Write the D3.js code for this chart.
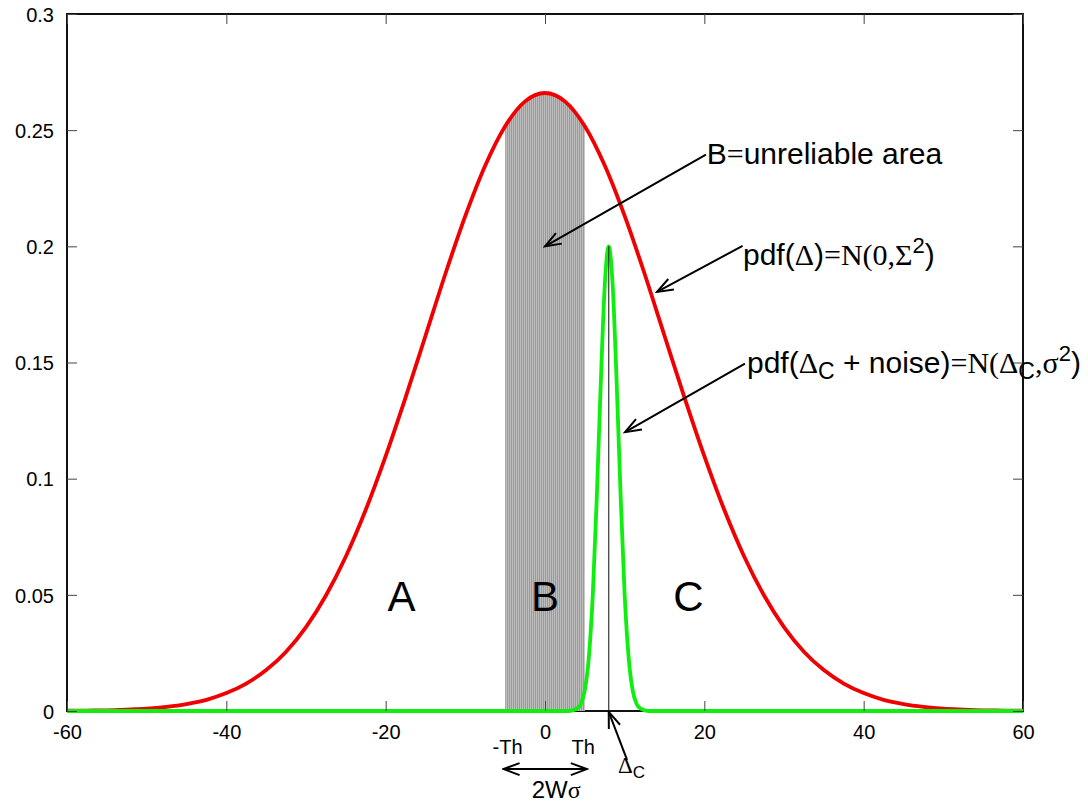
<!DOCTYPE html>
<html lang="en">
  <head>
    <meta charset="utf-8">
    <title>Unreliable area</title>
    <script src="https://d3js.org/d3.v7.min.js"></script>
    <style>
      html, body { margin: 0; padding: 0; background: #fff; overflow: hidden; }
      svg { display: block; }
      text { font-family: "Liberation Sans", Arial, sans-serif; fill: #000; }
      .serif { font-family: "Liberation Serif", "Times New Roman", serif; }
      .axis line { stroke: #444; stroke-width: 1; }
    </style>
  </head>
  <body>
    <div class="chart"></div>

    <script type="text/javascript">
      // values
      const xTicks = [-60, -40, -20, 0, 20, 40, 60];
      const yTicks = [0, 0.05, 0.1, 0.15, 0.2, 0.25, 0.3];

      // pdf(Delta) = N(0, Sigma^2)
      const bigX = [-60, -57.5, -55, -52.5, -50, -47.5, -45, -42.5, -40, -37.5, -35, -32.5, -30, -27.5, -25, -22.5,
                    -20, -17.5, -15, -12.5, -10, -7.5, -5, -2.5, 0, 2.5, 5, 7.5, 10, 12.5, 15, 17.5, 20,
                    22.5, 25, 27.5, 30, 32.5, 35, 37.5, 40, 42.5, 45, 47.5, 50, 52.5, 55, 57.5, 60];
      const bigY = [0.0001, 0.0002, 0.0003, 0.0006, 0.0010, 0.0018, 0.0030, 0.0048, 0.0077, 0.0118, 0.0176, 0.0255,
                    0.0361, 0.0497, 0.0665, 0.0866, 0.1097, 0.1350, 0.1615, 0.1882, 0.2131, 0.2348, 0.2517, 0.2624,
                    0.2660, 0.2624, 0.2517, 0.2348, 0.2131, 0.1882, 0.1615, 0.1350, 0.1097, 0.0866, 0.0665, 0.0497,
                    0.0361, 0.0255, 0.0176, 0.0118, 0.0077, 0.0048, 0.0030, 0.0018, 0.0010, 0.0006, 0.0003, 0.0002, 0.0001];

      // pdf(Delta_C + noise) = N(Delta_C, sigma^2)
      const smallX = [-60, 0, 3, 4, 4.5, 5, 5.5, 6, 6.5, 7, 7.5, 8, 8.5, 9, 9.5, 10, 10.5, 11, 11.5, 12, 13, 60];
      const smallY = [0, 0, 0, 0.001, 0.003, 0.009, 0.023, 0.05, 0.092, 0.141, 0.183, 0.2, 0.183, 0.141, 0.092,
                      0.05, 0.023, 0.009, 0.003, 0.001, 0, 0];

      const th = 5;          // threshold -Th .. Th
      const deltaC = 8;      // centre of the narrow pdf
      const deltaCPeak = 0.2;

      const width = 1088;
      const height = 803;
      const margin = {top: 14, right: 65, bottom: 92, left: 67};
      const innerWidth = width - margin.left - margin.right;
      const innerHeight = height - margin.top - margin.bottom;

      const svg = d3.select('.chart')
          .append('svg')
          .attr('width', width)
          .attr('height', height)
          .attr('viewBox', '0 0 ' + width + ' ' + height);

      const defs = svg.append('defs');

      // grey impulses of area B
      const pat = defs.append('pattern')
          .attr('id', 'stripes')
          .attr('patternUnits', 'userSpaceOnUse')
          .attr('width', 2)
          .attr('height', 10);
      pat.append('rect').attr('width', 2).attr('height', 10).attr('fill', '#bdbdbd');
      pat.append('rect').attr('width', 1).attr('height', 10).attr('fill', '#9a9a9a');

      defs.append('marker')
          .attr('id', 'head')
          .attr('markerUnits', 'userSpaceOnUse')
          .attr('viewBox', '-18 -9 20 18')
          .attr('markerWidth', 20)
          .attr('markerHeight', 18)
          .attr('refX', 0)
          .attr('refY', 0)
          .attr('orient', 'auto-start-reverse')
          .append('path')
          .attr('d', 'M-16,-6 L0,0 L-16,6')
          .attr('fill', 'none')
          .attr('stroke', '#000')
          .attr('stroke-width', 2);

      const g = svg.append('g')
          .attr('transform', 'translate(' + margin.left + ',' + margin.top + ')');

      const xScale = d3.scaleLinear()
          .domain([-60, 60])
          .range([0, innerWidth]);

      const yScale = d3.scaleLinear()
          .domain([0, 0.3])
          .range([innerHeight, 0]);

      const bigData = bigX.map((x, i) => ({x: x, y: bigY[i]}));
      const smallData = smallX.map((x, i) => ({x: x, y: smallY[i]}));

      defs.append('clipPath')
          .attr('id', 'bandB')
          .append('rect')
          .attr('x', xScale(-th))
          .attr('y', 0)
          .attr('width', xScale(th) - xScale(-th))
          .attr('height', innerHeight);

      const area = d3.area()
          .x(d => xScale(d.x))
          .y0(yScale(0))
          .y1(d => yScale(d.y))
          .curve(d3.curveMonotoneX);

      const line = d3.line()
          .x(d => xScale(d.x))
          .y(d => yScale(d.y))
          .curve(d3.curveMonotoneX);

      // frame
      g.append('rect')
          .attr('width', innerWidth)
          .attr('height', innerHeight)
          .attr('fill', 'none')
          .attr('stroke', '#111')
          .attr('stroke-width', 2);

      g.append('path')
          .datum(bigData)
          .attr('clip-path', 'url(#bandB)')
          .attr('fill', 'url(#stripes)')
          .attr('d', area);

      g.append('path')
          .datum(bigData)
          .attr('fill', 'none')
          .attr('stroke', '#f00000')
          .attr('stroke-width', 3.8)
          .attr('d', line);

      g.append('path')
          .datum(smallData)
          .attr('fill', 'none')
          .attr('stroke', '#10ee10')
          .attr('stroke-width', 3.8)
          .attr('d', line);

      g.append('line')
          .attr('x1', xScale(deltaC))
          .attr('x2', xScale(deltaC))
          .attr('y1', yScale(0))
          .attr('y2', yScale(deltaCPeak))
          .attr('stroke', '#333')
          .attr('stroke-width', 1.2);

      // axes, ticks mirrored on all four sides
      const fmt = d => String(d);
      const xAxis = d3.axisBottom(xScale).tickValues(xTicks).tickSizeInner(-10).tickSizeOuter(0).tickPadding(14).tickFormat(fmt);
      const yAxis = d3.axisLeft(yScale).tickValues(yTicks).tickSizeInner(-10).tickSizeOuter(0).tickPadding(13).tickFormat(fmt);

      g.append('g')
          .attr('class', 'axis')
          .attr('transform', 'translate(0,' + innerHeight + ')')
          .call(xAxis);
      g.append('g')
          .attr('class', 'axis')
          .call(yAxis)
          .selectAll('text')
          .attr('dy', '0.36em');
      g.append('g')
          .attr('class', 'axis mirror')
          .call(d3.axisTop(xScale).tickValues(xTicks).tickSizeInner(-10).tickSizeOuter(0));
      g.append('g')
          .attr('class', 'axis mirror')
          .attr('transform', 'translate(' + innerWidth + ',0)')
          .call(d3.axisRight(yScale).tickValues(yTicks).tickSizeInner(-10).tickSizeOuter(0));

      g.selectAll('.mirror text').remove();
      g.selectAll('.axis .domain').remove();
      g.selectAll('.axis').attr('font-family', null).attr('font-size', 20);

      // region letters
      const regions = [{t: 'A', x: -18}, {t: 'B', x: 0}, {t: 'C', x: 18}];
      g.selectAll('.region')
          .data(regions)
          .enter()
          .append('text')
          .attr('class', 'region')
          .attr('x', d => xScale(d.x))
          .attr('y', yScale(0.043))
          .attr('text-anchor', 'middle')
          .attr('font-size', 42)
          .text(d => d.t);

      // arrows, in data units
      const arrows = [
        {x1: 20.2, y1: 0.2395, x2: 0, y2: 0.2},
        {x1: 24.8, y1: 0.2002, x2: 14.06, y2: 0.1804},
        {x1: 25.1, y1: 0.1495, x2: 10.05, y2: 0.12},
        {x1: 10.3, y1: -0.021, x2: deltaC, y2: -0.0004}
      ];
      g.selectAll('.arrow')
          .data(arrows)
          .enter()
          .append('line')
          .attr('class', 'arrow')
          .attr('x1', d => xScale(d.x1))
          .attr('y1', d => yScale(d.y1))
          .attr('x2', d => xScale(d.x2))
          .attr('y2', d => yScale(d.y2))
          .attr('stroke', '#000')
          .attr('stroke-width', 2)
          .attr('marker-end', 'url(#head)');

      // 2W sigma double arrow
      g.append('line')
          .attr('x1', xScale(-th - 0.2))
          .attr('x2', xScale(th + 0.25))
          .attr('y1', yScale(-0.025))
          .attr('y2', yScale(-0.025))
          .attr('stroke', '#000')
          .attr('stroke-width', 2)
          .attr('marker-start', 'url(#head)')
          .attr('marker-end', 'url(#head)');

      const t1 = g.append('text')
          .attr('x', xScale(20.3))
          .attr('y', yScale(0.2355))
          .attr('font-size', 30);
      t1.append('tspan').text('B');
      t1.append('tspan').attr('class', 'serif').text('=');
      t1.append('tspan').text('unreliable area');

      const t2 = g.append('text')
          .attr('x', xScale(24.85))
          .attr('y', yScale(0.192))
          .attr('font-size', 30);
      t2.append('tspan').text('pdf(');
      t2.append('tspan').attr('class', 'serif').text('Δ');
      t2.append('tspan').text(')');
      t2.append('tspan').attr('class', 'serif').text('=N(0,Σ');
      t2.append('tspan').attr('font-size', 22).attr('dy', -12).text('2');
      t2.append('tspan').attr('dy', 12).text(')');

      const t3 = g.append('text')
          .attr('x', xScale(25.35))
          .attr('y', yScale(0.1455))
          .attr('font-size', 30);
      t3.append('tspan').text('pdf(');
      t3.append('tspan').attr('class', 'serif').text('Δ');
      t3.append('tspan').attr('font-size', 23).attr('dy', 6).text('C');
      t3.append('tspan').attr('dy', -6).text(' + noise)');
      t3.append('tspan').attr('class', 'serif').text('=N(Δ');
      t3.append('tspan').attr('font-size', 23).attr('dy', 6).text('C');
      t3.append('tspan').attr('class', 'serif').attr('dy', -6).text(',σ');
      t3.append('tspan').attr('font-size', 22).attr('dy', -12).text('2');
      t3.append('tspan').attr('dy', 12).text(')');

      // threshold labels under the axis
      g.selectAll('.thlab')
          .data([{t: '-Th', x: -th + 0.3}, {t: 'Th', x: th - 0.2}])
          .enter()
          .append('text')
          .attr('class', 'thlab')
          .attr('x', d => xScale(d.x))
          .attr('y', yScale(-0.0185))
          .attr('text-anchor', 'middle')
          .attr('font-size', 20)
          .text(d => d.t);

      const t4 = g.append('text')
          .attr('x', xScale(1.4))
          .attr('y', yScale(-0.0375))
          .attr('text-anchor', 'middle')
          .attr('font-size', 24);
      t4.append('tspan').text('2W');
      t4.append('tspan').attr('class', 'serif').text('σ');

      const t5 = g.append('text')
          .attr('x', xScale(9.15))
          .attr('y', yScale(-0.0267))
          .attr('font-size', 23);
      t5.append('tspan').attr('class', 'serif').text('Δ');
      t5.append('tspan').attr('font-size', 17).attr('dy', 5).text('C');
    </script>
  </body>
</html>
